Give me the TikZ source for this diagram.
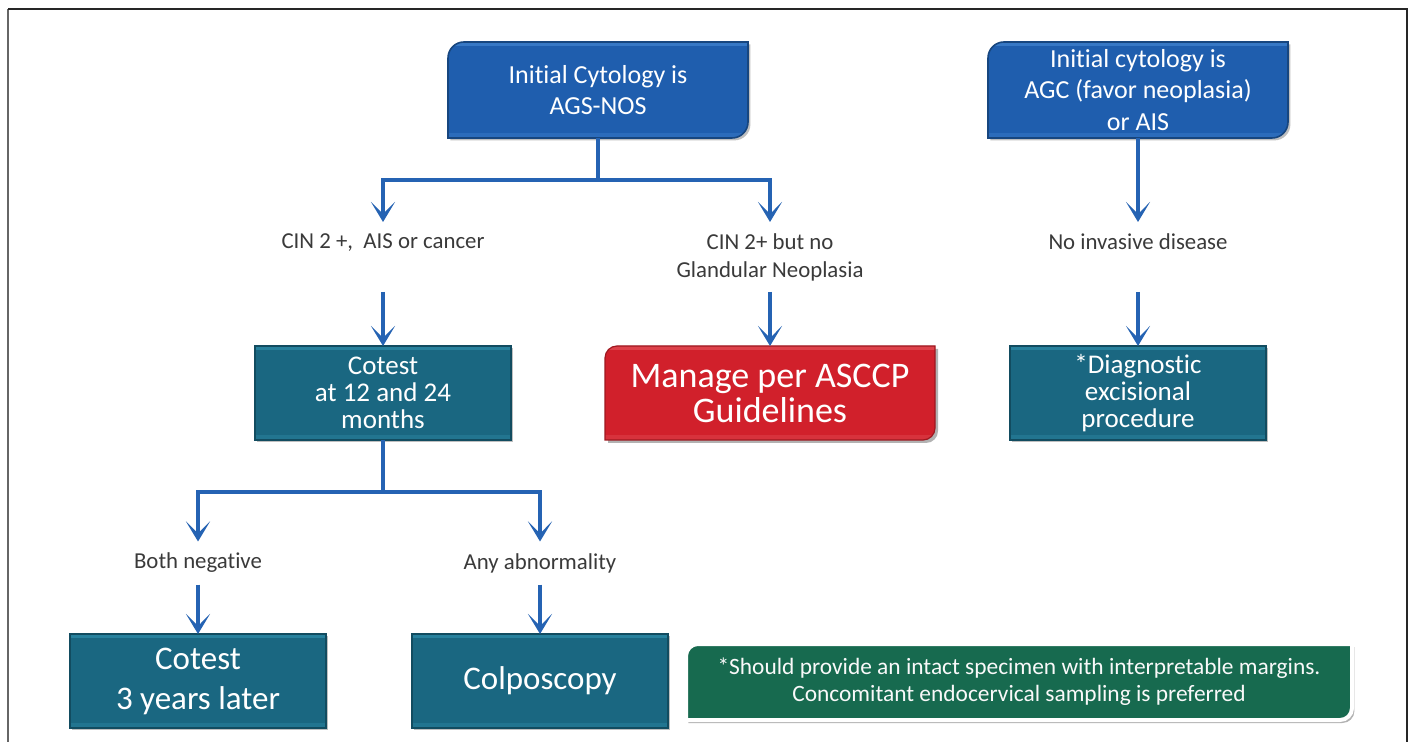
\documentclass[tikz,border=0pt]{standalone}
\usepackage{fontspec}
\setmainfont[Ligatures=NoCommon]{Carlito}
\usetikzlibrary{arrows.meta,backgrounds,shadows}
\definecolor{boxblue}{HTML}{1F5EAE}
\definecolor{boxblueD}{HTML}{17467F}
\definecolor{boxblueL}{HTML}{3E7FCB}
\definecolor{boxteal}{HTML}{1A6781}
\definecolor{boxtealD}{HTML}{124C60}
\definecolor{boxtealL}{HTML}{2C88A4}
\definecolor{boxred}{HTML}{D1202B}
\definecolor{boxredD}{HTML}{9E1820}
\definecolor{boxredL}{HTML}{E04A52}
\definecolor{boxgreen}{HTML}{176A4F}
\definecolor{arrowblue}{HTML}{2563B3}
\definecolor{labelgray}{HTML}{3A3A3A}
\newcommand\diagshape[3]{%
  \path[#3] (#1.south west) -- ([yshift=-#2]#1.north west)
    arc[start angle=180,end angle=90,radius=#2] -- (#1.north east)
    -- ([yshift=#2]#1.south east)
    arc[start angle=0,end angle=-90,radius=#2] -- cycle;}
\tikzset{
  every node/.style={inner sep=0pt, outer sep=0pt},
  conn/.style={draw=arrowblue, line width=2pt},
  arr/.style={conn, -{Stealth[length=10pt,width=12pt,inset=6pt]}},
  lbl/.style={text=labelgray, font=\fontsize{11.4}{14}\selectfont, align=center},
  toplbl/.style={lbl, minimum height=35pt},
  botlbl/.style={lbl, minimum height=21.5pt},
  bevel/.style={path picture={
    \fill[#1, opacity=0.8] (path picture bounding box.north west) rectangle
      ([yshift=-2pt]path picture bounding box.north east);
    \fill[#1, opacity=0.45] (path picture bounding box.south west) rectangle
      ([yshift=2.5pt]path picture bounding box.south east);}},
  bluebox/.style={text=white, font=\fontsize{13}{15.6}\selectfont, align=center,
    minimum width=150pt, minimum height=48pt},
  redbox/.style={text=white, font=\fontsize{18}{17.5}\selectfont, align=center,
    minimum width=165pt, minimum height=47pt},
  greenbox/.style={text=white!95!gray, font=\fontsize{11.7}{13.5}\selectfont, align=center,
    minimum width=333pt, minimum height=38pt},
  tealbox/.style={text=white, fill=boxteal, draw=boxtealD, line width=0.6pt,
    align=center, minimum width=128pt, minimum height=47pt, bevel=boxtealL,
    drop shadow={shadow xshift=1.2pt, shadow yshift=-1.2pt, opacity=0.25, fill=black}},
  tealsmall/.style={tealbox, font=\fontsize{13.5}{13.5}\selectfont},
  tealbig/.style={tealbox, font=\fontsize{16.5}{20}\selectfont},
}
\begin{document}
\begin{tikzpicture}[x=0.5pt,y=0.5pt]
\useasboundingbox (0,0) rectangle (1412,-742);
% top boxes
\node[bluebox] (b1) at (598,-90) {Initial Cytology is\\AGS-NOS};
\node[bluebox] (b2) at (1138,-90) {Initial cytology is\\AGC (favor neoplasia)\\or AIS};
% labels first row
\node[toplbl] (l1) at (383,-257) {CIN 2 +,\ \ AIS or cancer\\\vphantom{p}};
\node[toplbl] (l2) at (770,-257) {CIN 2+ but no\\Glandular Neoplasia};
\node[toplbl] (l3) at (1138,-257) {No invasive disease\\\vphantom{p}};
% second row boxes
\node[tealsmall] (ct) at (383,-393) {Cotest\\at 12 and 24\\months};
\node[redbox] (mg) at (770,-393) {Manage per ASCCP\\Guidelines};
\node[tealsmall] (dx) at (1138,-393) {*Diagnostic\\excisional\\procedure};
% labels second row
\node[botlbl] (bn) at (198,-563) {Both negative};
\node[botlbl] (aa) at (540,-563) {Any abnormality};
% bottom boxes
\node[tealbig] (c3) at (198,-681) {Cotest\\3 years later};
\node[tealbig] (cp) at (540,-681) {Colposcopy};
\node[greenbox] (gn) at (1019,-682) {*Should provide an intact specimen with interpretable margins.\\Concomitant endocervical sampling is preferred};
% junctions
\coordinate (j1) at (b1.south |- 0,-180);
\coordinate (j2) at (ct.south |- 0,-492);
% connectors
\draw[conn] (b1.south) -- (j1);
\draw[arr] (j1) -| (l1.north);
\draw[arr] (j1) -| (l2.north);
\draw[arr] (b2.south) -- (l3.north);
\draw[arr] (l1.south) -- (ct.north);
\draw[arr] (l2.south) -- (mg.north);
\draw[arr] (l3.south) -- (dx.north);
\draw[conn] (ct.south) -- (j2);
\draw[arr] (j2) -| (bn.north);
\draw[arr] (j2) -| (aa.north);
\draw[arr] (bn.south) -- (c3.north);
\draw[arr] (aa.south) -- (cp.north);
% backgrounds and shaped boxes
\begin{scope}[on background layer]
  \fill[white] (0,0) rectangle (1412,-742);
  \draw[line width=1pt, draw=black!60] (8,-742) -- (8,-9);
  \draw[line width=1pt, draw=black!85] (8,-9) -- (1407,-9) -- (1407,-742);
  \diagshape{b1}{8pt}{fill=boxblue, draw=boxblueD, line width=0.8pt, bevel=boxblueL,
    drop shadow={shadow xshift=1.2pt, shadow yshift=-1.2pt, opacity=0.25, fill=black}}
  \diagshape{b2}{8pt}{fill=boxblue, draw=boxblueD, line width=0.8pt, bevel=boxblueL,
    drop shadow={shadow xshift=1.2pt, shadow yshift=-1.2pt, opacity=0.25, fill=black}}
  \diagshape{mg}{6pt}{fill=boxred, draw=boxredD, line width=0.6pt, bevel=boxredL,
    drop shadow={shadow xshift=1.5pt, shadow yshift=-1.5pt, opacity=0.3, fill=black}}
  \diagshape{gn}{6pt}{fill=boxgreen, draw=white, line width=2pt,
    drop shadow={shadow xshift=1.2pt, shadow yshift=-1.5pt, opacity=0.3, fill=black}}
\end{scope}
\end{tikzpicture}
\end{document}
